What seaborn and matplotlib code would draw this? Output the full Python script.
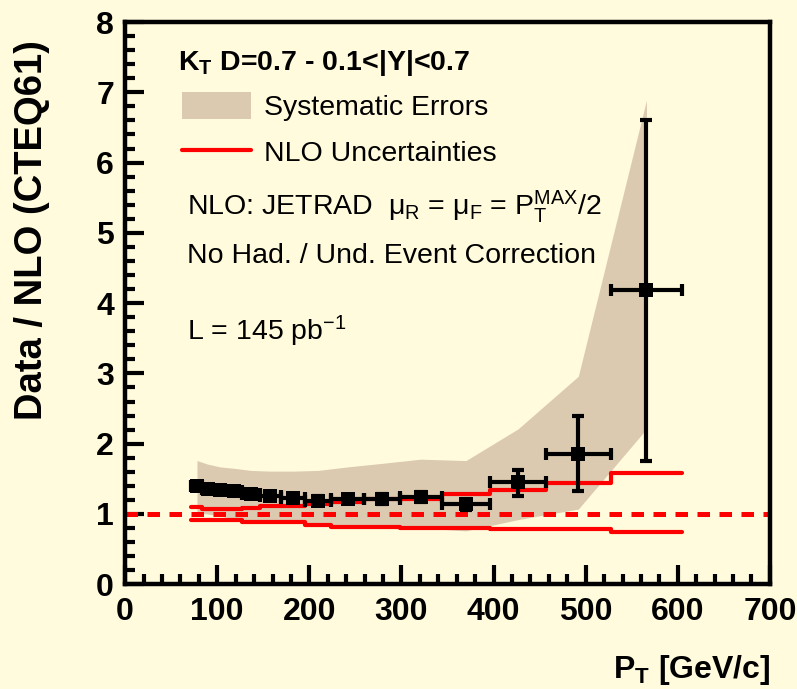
import numpy as np
import pandas as pd
import matplotlib
matplotlib.use("Agg")
import matplotlib.pyplot as plt
from matplotlib.patches import Patch
from matplotlib.lines import Line2D
from matplotlib.ticker import MultipleLocator
import seaborn as sns

# kT D=0.7, 0.1<|Y|<0.7 : data / NLO (CTEQ6.1) ratio per pT bin
bin_edges = [72, 83, 96, 110, 127, 146, 169, 195, 224, 259, 298, 344, 396, 457, 527, 605]
pt = [78, 89.5, 103, 118.5, 136.5, 157.5, 182, 209.5, 241.5, 278.5, 321, 370, 426.5, 492, 566]
ratio = [1.40, 1.35, 1.34, 1.33, 1.29, 1.26, 1.23, 1.19, 1.21, 1.21, 1.24, 1.14, 1.46, 1.86, 4.19]
stat_lo = [0.04, 0.04, 0.04, 0.04, 0.05, 0.05, 0.05, 0.06, 0.06, 0.07, 0.07, 0.08, 0.20, 0.53, 2.43]
stat_hi = [0.04, 0.04, 0.04, 0.04, 0.05, 0.05, 0.05, 0.06, 0.06, 0.07, 0.07, 0.08, 0.17, 0.53, 2.41]

# systematic error band (evaluated at the bin centres)
syst_lo = [1.02, 1.00, 0.97, 0.93, 0.90, 0.88, 0.87, 0.86, 0.84, 0.82, 0.80, 0.76, 0.92, 1.07, 2.21]
syst_hi = [1.76, 1.71, 1.67, 1.65, 1.62, 1.61, 1.61, 1.62, 1.67, 1.72, 1.78, 1.76, 2.21, 2.96, 6.89]

# NLO uncertainty envelope per bin
nlo_lo = [0.91, 0.91, 0.91, 0.91, 0.88, 0.88, 0.88, 0.85, 0.82, 0.82, 0.80, 0.80, 0.78, 0.78, 0.75]
nlo_hi = [1.10, 1.07, 1.07, 1.07, 1.09, 1.12, 1.12, 1.14, 1.17, 1.22, 1.22, 1.29, 1.34, 1.44, 1.59]

BG = "#fffbdc"
TAN = "#dccab0"
RED = "#ff0000"

sns.set_theme(style="ticks", rc={
    "figure.facecolor": BG,
    "axes.facecolor": BG,
    "axes.edgecolor": "black",
    "axes.linewidth": 3.2,
    "xtick.color": "black",
    "ytick.color": "black",
    "text.color": "black",
    "axes.labelcolor": "black",
})
SANS = ["Liberation Sans", "DejaVu Sans"]
plt.rcParams["font.family"] = SANS
plt.rcParams["mathtext.fontset"] = "custom"
plt.rcParams["mathtext.rm"] = "Liberation Sans"
plt.rcParams["mathtext.it"] = "Liberation Sans:italic"
plt.rcParams["mathtext.bf"] = "Liberation Sans:bold"
plt.rcParams["mathtext.default"] = "regular"

fig = plt.figure(figsize=(7.97, 6.89), dpi=100)
ax = fig.add_axes([0.157, 0.152, 0.809, 0.816])

pt_a = np.array(pt)
edges = np.array(bin_edges)

# systematic band
ax.fill_between(pt, syst_lo, syst_hi, color=TAN, lw=0, zorder=1)

# reference line at unity
ax.axhline(1.0, color=RED, lw=3.6, ls=(0, (2.5, 1.9)), dash_capstyle="butt", zorder=2)

# NLO uncertainty steps
steps = pd.DataFrame({
    "pt": np.concatenate([edges, edges]),
    "val": np.concatenate([np.append(nlo_hi, nlo_hi[-1]), np.append(nlo_lo, nlo_lo[-1])]),
    "edge": ["hi"] * len(edges) + ["lo"] * len(edges),
})
for key in ["hi", "lo"]:
    sub = steps[steps["edge"] == key]
    sns.lineplot(data=sub, x="pt", y="val", drawstyle="steps-post", color=RED, lw=3.0,
                 estimator=None, sort=False, ax=ax, zorder=3)

# data points with stat errors and bin widths
xerr = [pt_a - edges[:-1], edges[1:] - pt_a]
ax.errorbar(pt, ratio, xerr=xerr, yerr=[stat_lo, stat_hi], fmt="none", ecolor="black",
            elinewidth=3.0, capsize=4.3, capthick=3.0, zorder=4)
sns.scatterplot(x=pt, y=ratio, marker="s", s=100, color="black", edgecolor="black",
                linewidth=0, zorder=5, ax=ax)

ax.set_xlim(0, 700)
ax.set_ylim(0, 8)
ax.xaxis.set_major_locator(MultipleLocator(100))
ax.xaxis.set_minor_locator(MultipleLocator(20))
ax.yaxis.set_major_locator(MultipleLocator(1))
ax.yaxis.set_minor_locator(MultipleLocator(0.2))
ax.tick_params(which="both", direction="in", top=False, right=False, width=3.0)
ax.tick_params(which="major", length=14, labelsize=23)
ax.tick_params(which="minor", length=7)
ax.tick_params(axis="y", pad=8)
ax.tick_params(axis="x", pad=9)
for lab in ax.get_xticklabels() + ax.get_yticklabels():
    lab.set_fontweight("bold")
for sp in ax.spines.values():
    sp.set_visible(True)
    sp.set_linewidth(3.2)

ax.set_xlabel(r"P$_T$ [GeV/c]", fontsize=23, fontweight="bold", ha="right")
ax.xaxis.set_label_coords(1.0, -0.122)
ax.set_ylabel("Data / NLO (CTEQ61)", fontweight="bold", fontsize=27.5)
ax.yaxis.set_label_coords(-0.116, 0.63)

ax.text(0.082, 0.915, r"K$_T$ D=0.7 - 0.1<|Y|<0.7", transform=ax.transAxes,
        fontsize=20.5, fontweight="bold", va="baseline", ha="left")

handles = [Patch(facecolor=TAN, edgecolor="none", label="Systematic Errors"),
           Line2D([], [], color=RED, lw=3.0, label="NLO Uncertainties")]
ax.legend(handles=handles, loc="upper left", bbox_to_anchor=(0.088, 0.876),
          frameon=False, fontsize=20.5, handlelength=2.42, handleheight=1.09,
          handletextpad=0.46, labelspacing=0.6, borderpad=0, borderaxespad=0)

ax.text(0.096, 0.657, "NLO: JETRAD  μ$_R$ = μ$_F$ = P$_T^{MAX}$/2", transform=ax.transAxes,
        fontsize=20.5, va="baseline", ha="left")
ax.text(0.096, 0.571, "No Had. / Und. Event Correction", transform=ax.transAxes,
        fontsize=20.5, va="baseline", ha="left")
ax.text(0.096, 0.434, r"L = 145 pb$^{-1}$", transform=ax.transAxes,
        fontsize=20.5, va="baseline", ha="left")

fig.savefig("out.png", dpi=100, facecolor=BG)
